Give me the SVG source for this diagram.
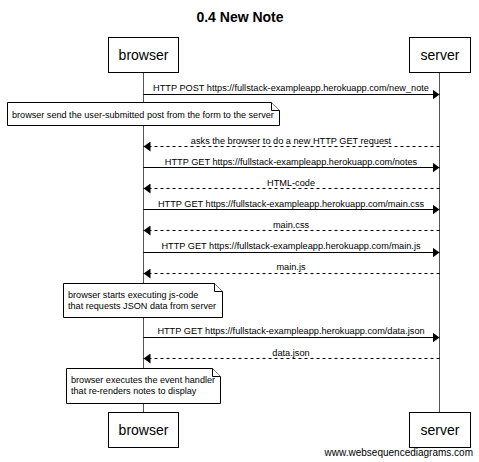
<svg xmlns="http://www.w3.org/2000/svg" width="479" height="462" viewBox="0 0 479 462">
<style>
text{font-family:"Liberation Sans",Arial,sans-serif;fill:#000}
.t{font-size:14px;font-weight:bold}
.p{font-size:14px}
.m{font-size:9.2px}
.n{font-size:9.1px}
.w{font-size:10px}
.box{fill:#fff;stroke:#000;stroke-width:1}
.life{stroke:#555;stroke-width:1}
.msg{stroke:#000;stroke-width:1;fill:none}
.ret{stroke:#000;stroke-width:1;fill:none;stroke-dasharray:3,3}
.note{fill:#fff;stroke:#000;stroke-width:1}
</style>
<defs>
<marker id="ah" viewBox="0 0 7 10" refX="7" refY="5" markerWidth="7" markerHeight="10" markerUnits="userSpaceOnUse" orient="auto">
<path d="M0,0 L7,5 L0,10 Z" fill="#000"/>
</marker>
</defs>
<rect width="479" height="462" fill="#fff"/>
<text class="t" x="240" y="22" text-anchor="middle">0.4 New Note</text>
<g id="lifelines">
<line class="life" x1="143.5" y1="72" x2="143.5" y2="412"/>
<line class="life" x1="439.5" y1="72" x2="439.5" y2="412"/>
</g>
<g id="browser-top"><rect class="box" x="108.5" y="37.5" width="70" height="35"/><text class="p" x="143.5" y="60" text-anchor="middle">browser</text></g>
<g id="server-top"><rect class="box" x="409.5" y="37.5" width="61" height="35"/><text class="p" x="440" y="60" text-anchor="middle">server</text></g>
<g id="browser-bottom"><rect class="box" x="108.5" y="412.5" width="70" height="35"/><text class="p" x="143.5" y="435" text-anchor="middle">browser</text></g>
<g id="server-bottom"><rect class="box" x="409.5" y="412.5" width="61" height="35"/><text class="p" x="440" y="435" text-anchor="middle">server</text></g>
<g id="connectors">
<line class="msg" x1="143.5" y1="94.5" x2="439.5" y2="94.5" marker-end="url(#ah)"/>
<text class="m" x="291" y="91" text-anchor="middle">HTTP POST https://fullstack-exampleapp.herokuapp.com/new_note</text>
<line class="ret" x1="439.5" y1="146.5" x2="143.5" y2="146.5" marker-end="url(#ah)"/>
<text class="m" x="291" y="144" text-anchor="middle">asks the browser to do a new HTTP GET request</text>
<line class="msg" x1="143.5" y1="167.5" x2="439.5" y2="167.5" marker-end="url(#ah)"/>
<text class="m" x="291" y="165" text-anchor="middle">HTTP GET https://fullstack-exampleapp.herokuapp.com/notes</text>
<line class="ret" x1="439.5" y1="188.5" x2="143.5" y2="188.5" marker-end="url(#ah)"/>
<text class="m" x="291" y="186" text-anchor="middle">HTML-code</text>
<line class="msg" x1="143.5" y1="209.5" x2="439.5" y2="209.5" marker-end="url(#ah)"/>
<text class="m" x="291" y="207" text-anchor="middle">HTTP GET https://fullstack-exampleapp.herokuapp.com/main.css</text>
<line class="ret" x1="439.5" y1="230.5" x2="143.5" y2="230.5" marker-end="url(#ah)"/>
<text class="m" x="291" y="228" text-anchor="middle">main.css</text>
<line class="msg" x1="143.5" y1="252.5" x2="439.5" y2="252.5" marker-end="url(#ah)"/>
<text class="m" x="291" y="249" text-anchor="middle">HTTP GET https://fullstack-exampleapp.herokuapp.com/main.js</text>
<line class="ret" x1="439.5" y1="273.5" x2="143.5" y2="273.5" marker-end="url(#ah)"/>
<text class="m" x="291" y="270" text-anchor="middle">main.js</text>
<line class="msg" x1="143.5" y1="337.5" x2="439.5" y2="337.5" marker-end="url(#ah)"/>
<text class="m" x="291" y="334" text-anchor="middle">HTTP GET https://fullstack-exampleapp.herokuapp.com/data.json</text>
<line class="ret" x1="439.5" y1="358.5" x2="143.5" y2="358.5" marker-end="url(#ah)"/>
<text class="m" x="291" y="356" text-anchor="middle">data.json</text>
</g>
<g id="note1">
<path class="note" d="M7.5,102.5 H271.5 L279.5,110.5 V125.5 H7.5 Z"/>
<path class="note" d="M271.5,102.5 V110.5 H279.5" fill="none"/>
<text class="n" x="12" y="117.5">browser send the user-submitted post from the form to the server</text>
</g>
<g id="note2">
<path class="note" d="M63.5,283.5 H214.5 L222.5,291.5 V317.5 H63.5 Z"/>
<path class="note" d="M214.5,283.5 V291.5 H222.5" fill="none"/>
<text class="n" x="68" y="297.5">browser starts executing js-code</text>
<text class="n" x="68" y="309">that requests JSON data from server</text>
</g>
<g id="note3">
<path class="note" d="M66.5,368.5 H212.5 L220.5,376.5 V403.5 H66.5 Z"/>
<path class="note" d="M212.5,368.5 V376.5 H220.5" fill="none"/>
<text class="n" x="71" y="382.5">browser executes the event handler</text>
<text class="n" x="71" y="394">that re-renders notes to display</text>
</g>
<text class="w" x="473" y="456" text-anchor="end">www.websequencediagrams.com</text>
</svg>
